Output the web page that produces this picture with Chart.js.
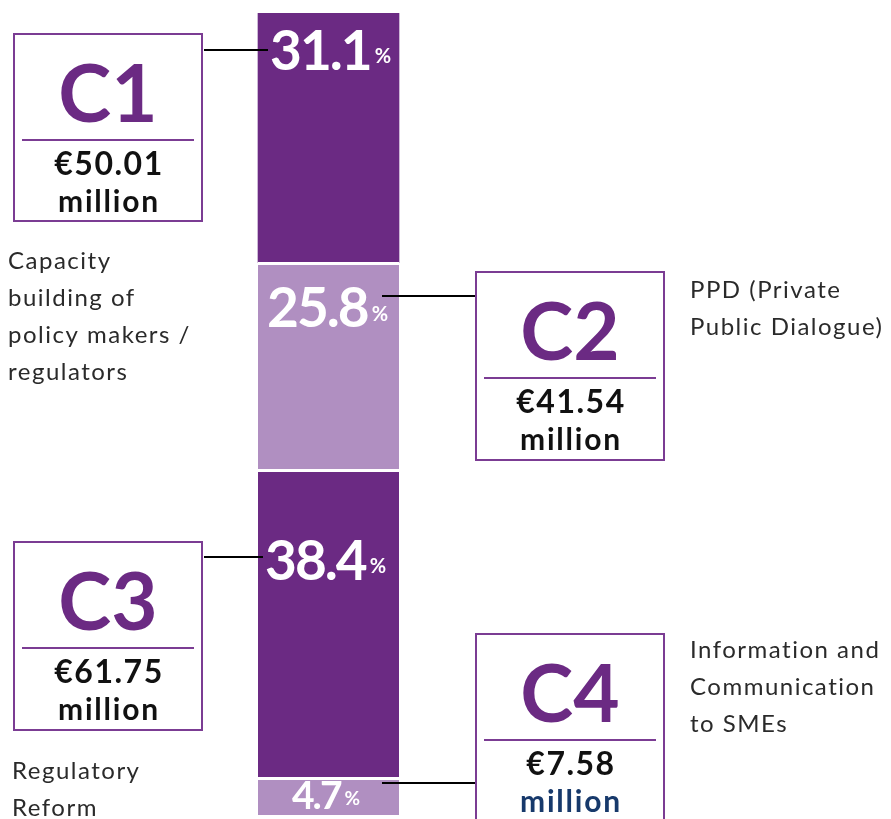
<!DOCTYPE html>
<html>
<head>
<meta charset="utf-8">
<script src="https://cdn.jsdelivr.net/npm/chart.js@4.4.0/dist/chart.umd.min.js"></script>
<style>
  html, body { margin: 0; padding: 0; background: #ffffff; }
  #wrap { position: relative; width: 891px; height: 819px; }
</style>
</head>
<body>
<div id="wrap"><canvas id="c" width="891" height="819"></canvas></div>
<script>
// ---- data ----
const categories = ['Budget'];
const components = ['C1', 'C2', 'C3', 'C4'];
const shares = [31.1, 25.8, 38.4, 4.7];
const amounts = ['€50.01', '€41.54', '€61.75', '€7.58'];
const amountUnit = ['million', 'million', 'million', 'million'];
const descriptions = [
  ['Capacity', 'building of', 'policy makers /', 'regulators'],
  ['PPD (Private', 'Public Dialogue)'],
  ['Regulatory', 'Reform'],
  ['Information and', 'Communication', 'to SMEs']
];

// ---- styles ----
const DARK = '#6b2a83';
const LIGHT = '#b08fc1';
const BOX = '#7b3c93';
const segColors = [DARK, LIGHT, DARK, LIGHT];
const unitColors = ['#111111', '#111111', '#111111', '#17396b'];

// layout of annotations (designer placement)
const boxes = [
  { x: 13, y: 33, w: 190, h: 189, side: 'left' },
  { x: 475, y: 271, w: 190, h: 190, side: 'right' },
  { x: 13, y: 541, w: 190, h: 190, side: 'left' },
  { x: 475, y: 633, w: 190, h: 200, side: 'right' }
];
const pctLabels = [
  { x: 270, y: 70, size: 55, ls: -2, psize: 20, pdy: -7, line: 50 },
  { x: 267, y: 327, size: 55, ls: -2, psize: 20, pdy: -6, line: 296 },
  { x: 265, y: 580, size: 55, ls: -2, psize: 20, pdy: -7, line: 557 },
  { x: 292, y: 809, size: 39, ls: -2, psize: 19, pdy: -4, line: 783 }
];
const descPos = [
  { x: 8, y: 269 },
  { x: 690, y: 298 },
  { x: 12, y: 779 },
  { x: 690, y: 658 }
];

const datasets = components.map((c, i) => ({
  label: c,
  data: [shares[i]],
  backgroundColor: segColors[i],
  borderColor: '#ffffff',
  borderWidth: i === 0 ? 0 : { top: 3, left: 0, right: 0, bottom: 0 },
  borderSkipped: false,
  barThickness: 141
})).reverse();

const annot = {
  id: 'annot',
  afterDatasetsDraw(chart) {
    const ctx = chart.ctx;
    const xs = chart.scales.x;
    const barX = xs.getPixelForValue(0);
    const barRight = barX + 141 / 2;
    ctx.save();
    components.forEach((c, i) => {
      const p = pctLabels[i];
      const b = boxes[i];
      // percent label
      const num = shares[i].toFixed(1);
      ctx.fillStyle = '#ffffff';
      ctx.textAlign = 'left';
      ctx.textBaseline = 'alphabetic';
      ctx.font = `700 ${p.size}px Lato`;
      ctx.letterSpacing = p.ls + 'px';
      ctx.fillText(num, p.x, p.y);
      const nw = ctx.measureText(num).width;
      ctx.letterSpacing = '0px';
      ctx.font = `700 ${p.psize}px Lato`;
      ctx.fillText('%', p.x + nw + 4, p.y + p.pdy);
      // connector
      ctx.strokeStyle = '#000000';
      ctx.lineWidth = 2;
      ctx.beginPath();
      if (b.side === 'left') {
        ctx.moveTo(b.x + b.w + 1, p.line);
        ctx.lineTo(p.x - 2, p.line);
      } else {
        ctx.moveTo(barRight - 17, p.line);
        ctx.lineTo(b.x, p.line);
      }
      ctx.stroke();
      // box
      ctx.strokeStyle = BOX;
      ctx.lineWidth = 2;
      ctx.strokeRect(b.x + 1, b.y + 1, b.w - 2, b.h - 2);
      const cx = b.x + b.w / 2;
      ctx.textAlign = 'center';
      ctx.fillStyle = DARK;
      ctx.font = '700 80px Lato';
      ctx.fillText(c, cx, b.y + 89);
      ctx.beginPath();
      ctx.moveTo(b.x + 9, b.y + 107);
      ctx.lineTo(b.x + b.w - 9, b.y + 107);
      ctx.stroke();
      ctx.fillStyle = '#111111';
      ctx.font = '700 32px Lato';
      ctx.letterSpacing = '1.5px';
      ctx.fillText(amounts[i], cx + 1, b.y + 142);
      ctx.fillStyle = unitColors[i];
      ctx.font = '700 30px Lato';
      ctx.letterSpacing = '1.8px';
      ctx.fillText(amountUnit[i], cx + 1, b.y + 179);
      // description
      const d = descPos[i];
      ctx.textAlign = 'left';
      ctx.fillStyle = '#2a2a2a';
      ctx.font = '400 24px Lato';
      ctx.letterSpacing = '1.5px';
      descriptions[i].forEach((line, k) => {
        ctx.fillText(line, d.x, d.y + k * 37);
      });
      ctx.letterSpacing = '0px';
    });
    ctx.restore();
  }
};

new Chart(document.getElementById('c'), {
  type: 'bar',
  data: { labels: categories, datasets },
  options: {
    responsive: false,
    animation: false,
    layout: { padding: { top: 13, bottom: 4, left: 0, right: 234 } },
    plugins: { legend: { display: false }, tooltip: { enabled: false } },
    scales: {
      x: { display: false, stacked: true },
      y: { display: false, stacked: true, min: 0, max: 100 }
    }
  },
  plugins: [annot]
});
</script>
</body>
</html>
